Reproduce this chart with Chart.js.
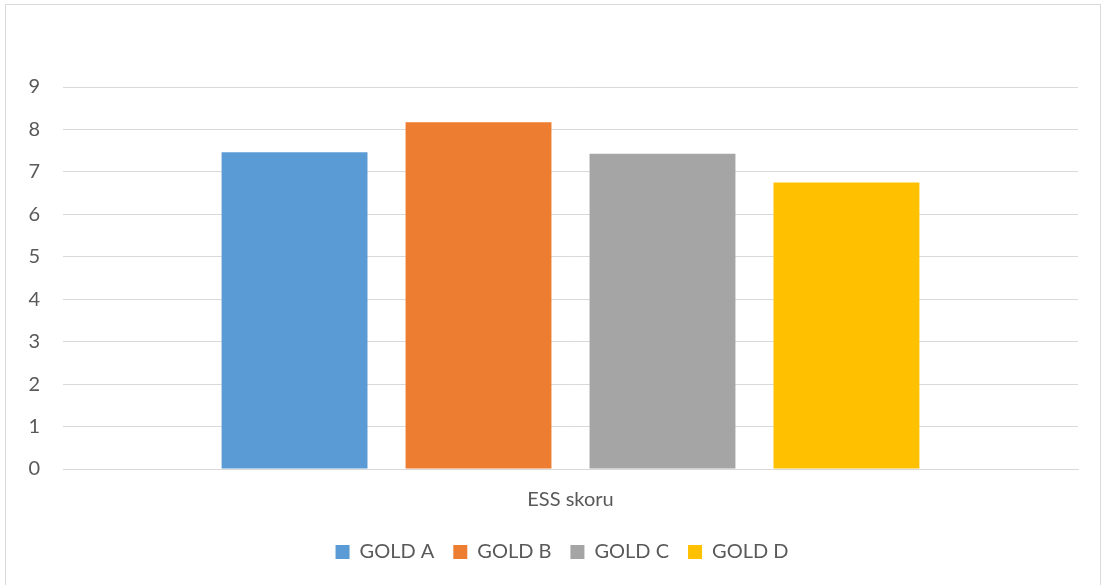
<!DOCTYPE html>
<html>
<head>
<meta charset="utf-8">
<script src="https://cdn.jsdelivr.net/npm/chart.js@4/dist/chart.umd.min.js"></script>
<style>
  html, body { margin: 0; padding: 0; background: #fff; }
  #wrap { position: relative; width: 1103px; height: 585px; }
  #frame { position: absolute; left: 5px; top: 4px; width: 1096px; height: 590px; border: 1px solid #d9d9d9; box-sizing: border-box; pointer-events: none; }
  canvas { position: absolute; left: 0; top: 0; }
</style>
</head>
<body>
<div id="wrap">
  <canvas id="c" width="1103" height="585"></canvas>
  <div id="frame"></div>
</div>
<script>
const categories = ["ESS skoru"];
const seriesNames = ["GOLD A", "GOLD B", "GOLD C", "GOLD D"];
const seriesValues = [7.46, 8.17, 7.43, 6.75];
const seriesColors = ["#5B9BD5", "#ED7D31", "#A5A5A5", "#FFC000"];
const yTicks = [0, 1, 2, 3, 4, 5, 6, 7, 8, 9];

const FONT = "Lato, 'Open Sans', sans-serif";
const TEXT = "#595959";
const FS = 20;

const datasets = seriesNames.map((name, i) => ({
  label: name,
  data: [seriesValues[i]],
  backgroundColor: seriesColors[i],
  borderWidth: 0,
  categoryPercentage: 0.725,
  barPercentage: 0.793
}));

const legendShift = {
  id: 'legendShift',
  afterLayout(chart) {
    if (chart.legend) { chart.legend.left += 46; }
  }
};

new Chart(document.getElementById('c'), {
  type: 'bar',
  data: { labels: categories, datasets },
  plugins: [legendShift],
  options: {
    responsive: false,
    animation: false,
    devicePixelRatio: 1,
    layout: { padding: { top: 87, right: 25, left: 0, bottom: 13 } },
    plugins: {
      tooltip: { enabled: false },
      legend: {
        position: 'bottom',
        labels: {
          color: TEXT,
          font: { family: FONT, size: FS },
          boxWidth: 14,
          boxHeight: 14,
          padding: 19
        }
      }
    },
    scales: {
      x: {
        grid: { display: false, drawTicks: false },
        border: { display: true, color: '#d9d9d9', width: 1 },
        afterFit: s => { s.height = s.height - 8; },
        ticks: { color: TEXT, font: { family: FONT, size: FS }, padding: 19 }
      },
      y: {
        min: 0,
        max: 9,
        afterBuildTicks: s => { s.ticks = yTicks.map(v => ({ value: v })); },
        afterFit: s => { s.width = 63; },
        grid: { color: '#d9d9d9', lineWidth: 1, drawTicks: false },
        border: { display: false },
        ticks: { color: TEXT, font: { family: FONT, size: FS }, padding: 23 }
      }
    }
  }
});
</script>
</body>
</html>
